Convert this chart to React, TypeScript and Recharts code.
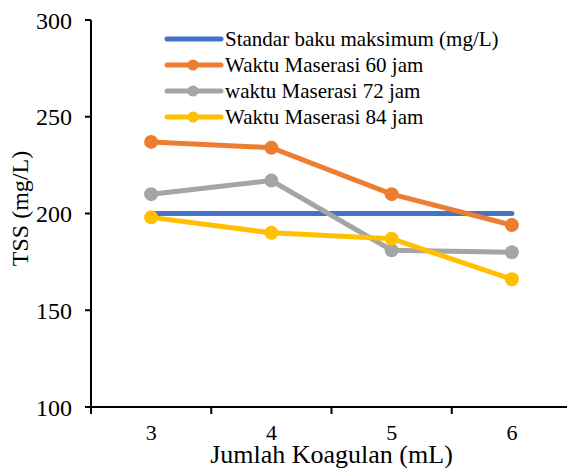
import { Legend, Line, LineChart, XAxis, YAxis } from "recharts"

// Jumlah koagulan (mL)
const categories = [3, 4, 5, 6]
const standar = [200, 200, 200, 200]
const jam60 = [237, 234, 210, 194]
const jam72 = [210, 217, 181, 180]
const jam84 = [198, 190, 187, 166]
const yTicks = [100, 150, 200, 250, 300]

const series = [
  { key: "standar", name: "Standar baku maksimum (mg/L)", color: "#4472C4", dot: false },
  { key: "jam60", name: "Waktu Maserasi 60 jam", color: "#ED7D31", dot: true },
  { key: "jam72", name: "waktu Maserasi 72 jam", color: "#A5A5A5", dot: true },
  { key: "jam84", name: "Waktu Maserasi 84 jam", color: "#FFC000", dot: true },
]

const chartData = categories.map((x, i) => ({
  x,
  standar: standar[i],
  jam60: jam60[i],
  jam72: jam72[i],
  jam84: jam84[i],
}))

// tick marks sit between categories, labels sit on them
const xTicks = [
  categories[0] - 0.5,
  ...categories.flatMap((c) => [c, c + 0.5]),
]

const FONT = "'Liberation Serif', 'Times New Roman', serif"

function XTick({ x, y, payload }: any) {
  const v = payload.value
  if (!Number.isInteger(v)) {
    return <line x1={x} x2={x} y1={y} y2={y + 7} stroke="#000" strokeWidth={2} />
  }
  return (
    <text x={x} y={y + 33} textAnchor="middle" fontSize={22} fill="#000" fontFamily={FONT}>
      {v}
    </text>
  )
}

function YTitle({ viewBox }: any) {
  const cy = viewBox.y + viewBox.height / 2 - 5
  const cx = 20
  return (
    <text
      x={cx}
      y={cy}
      transform={`rotate(-90, ${cx}, ${cy})`}
      textAnchor="middle"
      dominantBaseline="central"
      fontSize={24}
      fill="#000"
      fontFamily={FONT}
    >
      TSS (mg/L)
    </text>
  )
}

function LegendBox() {
  return (
    <div style={{ fontFamily: FONT, fontSize: 21, color: "#000" }}>
      {series.map((s) => (
        <div key={s.key} style={{ display: "flex", alignItems: "center", height: 26 }}>
          <svg width={62} height={26}>
            <line x1={4} x2={58} y1={13} y2={13} stroke={s.color} strokeWidth={5} strokeLinecap="round" />
            {s.dot && <circle cx={30} cy={13} r={5.5} fill={s.color} />}
          </svg>
          <span style={{ whiteSpace: "nowrap" }}>{s.name}</span>
        </div>
      ))}
    </div>
  )
}

export default function App() {
  return (
    <div
      style={{
        position: "absolute",
        left: 0,
        top: 0,
        width: 567,
        height: 472,
        overflow: "hidden",
        background: "#fff",
      }}
    >
      <LineChart
        width={601}
        height={472}
        data={chartData}
        margin={{ top: 20, right: 29, left: 0, bottom: 0 }}
        style={{ fontFamily: FONT }}
      >
        <XAxis
          xAxisId="top"
          orientation="top"
          type="number"
          dataKey="x"
          domain={[2.5, 6.5]}
          tick={false}
          tickLine={false}
          height={0}
          axisLine={{ stroke: "#000", strokeWidth: 2 }}
        />
        <XAxis
          type="number"
          dataKey="x"
          domain={[2.5, 6.5]}
          ticks={xTicks}
          interval={0}
          tick={<XTick />}
          tickLine={false}
          tickSize={0}
          tickMargin={0}
          height={65}
          axisLine={{ stroke: "#000", strokeWidth: 2 }}
          label={{
            value: "Jumlah Koagulan (mL)",
            position: "insideBottom",
            offset: 9,
            fontSize: 26,
            fill: "#000",
            fontFamily: FONT,
          }}
        />
        <YAxis
          domain={[100, 300]}
          ticks={yTicks}
          width={91}
          tick={{ fill: "#000", fontSize: 24, fontFamily: FONT }}
          tickSize={6}
          tickMargin={13}
          tickLine={{ stroke: "#000", strokeWidth: 2 }}
          axisLine={{ stroke: "#000", strokeWidth: 2 }}
          label={<YTitle />}
        />
        <Legend
          verticalAlign="middle"
          align="center"
          layout="horizontal"
          content={<LegendBox />}
          wrapperStyle={{ top: 26, left: 163, width: "auto", height: "auto" }}
        />
        {series.map((s) => (
          <Line
            key={s.key}
            dataKey={s.key}
            name={s.name}
            stroke={s.color}
            strokeWidth={5}
            strokeLinecap="round"
            dot={s.dot ? { r: 7, fill: s.color, stroke: "none" } : false}
            activeDot={false}
            isAnimationActive={false}
          />
        ))}
      </LineChart>
    </div>
  )
}
